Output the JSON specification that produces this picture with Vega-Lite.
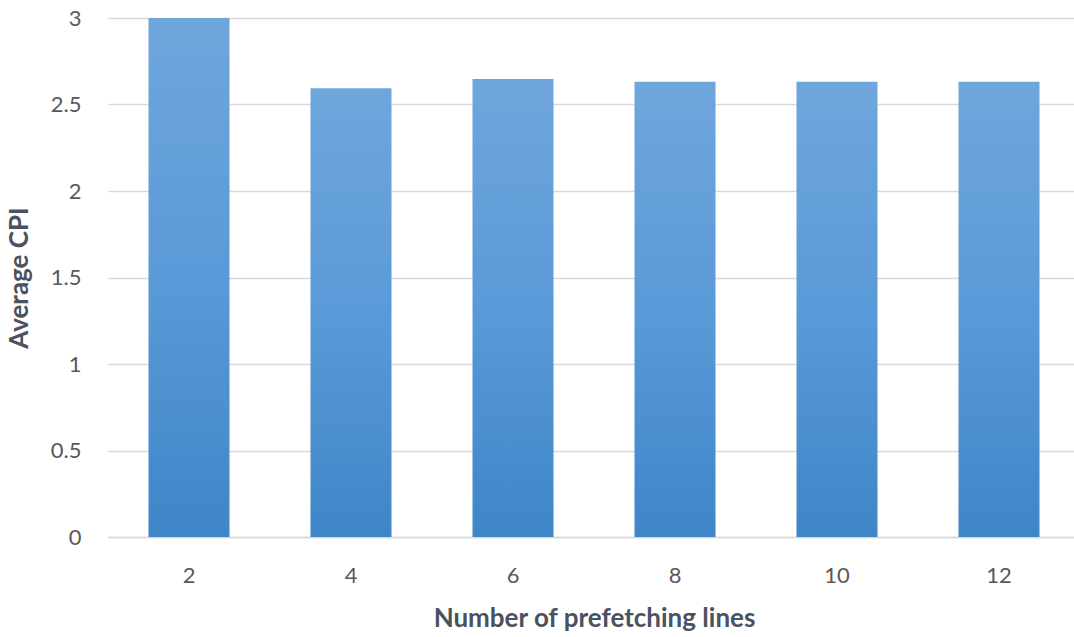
{
  "$schema": "https://vega.github.io/schema/vega-lite/v6.json",
  "autosize": "none",
  "width": 972,
  "height": 519,
  "padding": {"left": 108, "top": 18, "right": 0, "bottom": 100},
  "background": "white",
  "data": {
    "values": [
      {"lines": "2", "cpi": 3.0},
      {"lines": "4", "cpi": 2.594},
      {"lines": "6", "cpi": 2.647},
      {"lines": "8", "cpi": 2.632},
      {"lines": "10", "cpi": 2.632},
      {"lines": "12", "cpi": 2.632}
    ]
  },
  "config": {
    "view": {"stroke": null},
    "font": "Lato"
  },
  "mark": {
    "type": "bar",
    "fill": {
      "gradient": "linear",
      "x1": 0, "y1": 0, "x2": 0, "y2": 1,
      "stops": [
        {"offset": 0, "color": "#6fa6dc"},
        {"offset": 0.5, "color": "#5a9ad8"},
        {"offset": 1, "color": "#3e86c7"}
      ]
    }
  },
  "encoding": {
    "x": {
      "field": "lines",
      "type": "ordinal",
      "sort": null,
      "scale": {"paddingInner": 0.5, "paddingOuter": 0.25},
      "axis": {
        "title": "Number of prefetching lines",
        "titleFont": "Lato",
        "titleFontSize": 26,
        "titleFontWeight": "bold",
        "titleColor": "#4a5260",
        "titlePadding": 19,
        "labelAngle": 0,
        "labelFont": "Lato",
        "labelFontSize": 22,
        "labelColor": "#595959",
        "labelPadding": 28,
        "domain": true,
        "domainColor": "#d9d9d9",
        "domainWidth": 1.5,
        "ticks": false
      }
    },
    "y": {
      "field": "cpi",
      "type": "quantitative",
      "scale": {"domain": [0, 3], "nice": false},
      "axis": {
        "title": "Average CPI",
        "titleFont": "Lato",
        "titleFontSize": 26,
        "titleFontWeight": "bold",
        "titleColor": "#4a5260",
        "titlePadding": 18,
        "values": [0, 0.5, 1, 1.5, 2, 2.5, 3],
        "format": "~g",
        "labelFont": "Lato",
        "labelFontSize": 22,
        "labelColor": "#595959",
        "labelPadding": 27,
        "domain": false,
        "ticks": false,
        "grid": true,
        "gridColor": "#d9d9d9",
        "gridWidth": 1.5
      }
    }
  }
}
